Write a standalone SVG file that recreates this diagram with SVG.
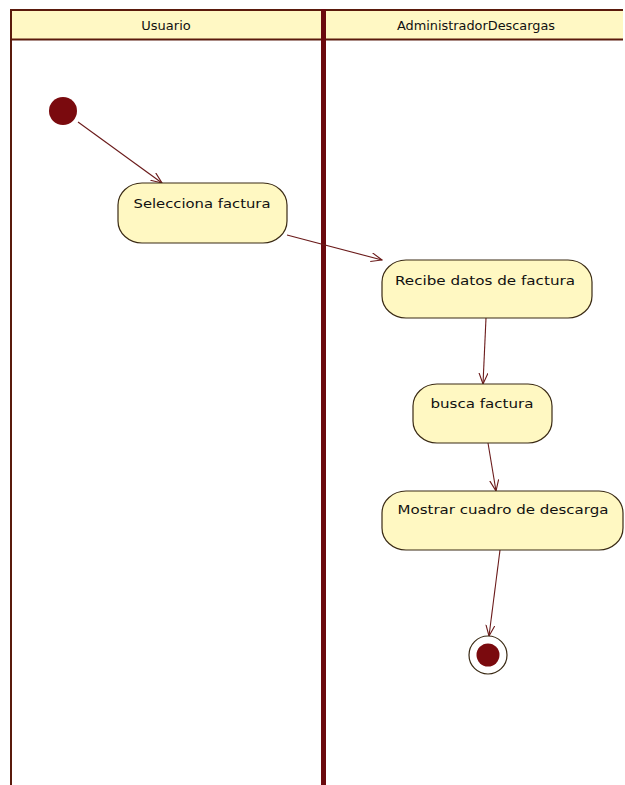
<svg xmlns="http://www.w3.org/2000/svg" width="625" height="785" viewBox="0 0 625 785">
<style>
.lane{stroke:#5a1a0c;stroke-width:2;fill:none}
.hdr{fill:#fff8c4}
.node{fill:#fff8c2;stroke:#3a2a14;stroke-width:1.2}
.t{font-family:"DejaVu Sans",sans-serif;font-size:13px;fill:#111}
.c{stroke:#6a1a1a;stroke-width:1.1;fill:none}
</style>
<defs>
<marker id="ah" viewBox="0 0 12 10" refX="11" refY="5" markerWidth="12" markerHeight="10" markerUnits="userSpaceOnUse" orient="auto">
<path d="M0,0.5 L11,5 L0,9.5" fill="none" stroke="#6a1a1a" stroke-width="1.1"/>
</marker>
</defs>
<rect width="625" height="785" fill="#ffffff"/>
<g id="swimlanes">
<rect class="hdr" x="11" y="10" width="612" height="29"/>
<line class="lane" x1="10" y1="10" x2="623" y2="10"/>
<line class="lane" x1="10" y1="39.5" x2="623" y2="39.5"/>
<line class="lane" x1="11" y1="9" x2="11" y2="785"/>
<line x1="323.5" y1="9" x2="323.5" y2="785" stroke="#6b0a0e" stroke-width="5"/>
<text class="t" x="166" y="30" text-anchor="middle">Usuario</text>
<text class="t" x="476" y="30" text-anchor="middle" textLength="158" lengthAdjust="spacingAndGlyphs">AdministradorDescargas</text>
</g>
<g id="connectors">
<line class="c" x1="78" y1="122" x2="162" y2="183" marker-end="url(#ah)"/>
<line class="c" x1="287" y1="235" x2="382" y2="260" marker-end="url(#ah)"/>
<line class="c" x1="486" y1="318" x2="483" y2="384" marker-end="url(#ah)"/>
<line class="c" x1="488" y1="443" x2="496" y2="491" marker-end="url(#ah)"/>
<line class="c" x1="500" y1="550" x2="489" y2="636" marker-end="url(#ah)"/>
</g>
<g id="start">
<circle cx="63" cy="111" r="14" fill="#7a0a0e"/>
</g>
<g id="selecciona">
<rect class="node" x="118" y="183" width="169" height="60" rx="24" ry="22"/>
<text class="t" x="202" y="208" text-anchor="middle" textLength="137" lengthAdjust="spacingAndGlyphs">Selecciona factura</text>
</g>
<g id="recibe">
<rect class="node" x="382" y="260" width="210" height="58" rx="24" ry="22"/>
<text class="t" x="485" y="285" text-anchor="middle" textLength="180" lengthAdjust="spacingAndGlyphs">Recibe datos de factura</text>
</g>
<g id="busca">
<rect class="node" x="413" y="384" width="139" height="59" rx="24" ry="22"/>
<text class="t" x="482" y="408" text-anchor="middle" textLength="103" lengthAdjust="spacingAndGlyphs">busca factura</text>
</g>
<g id="mostrar">
<rect class="node" x="382" y="491" width="241" height="59" rx="24" ry="22"/>
<text class="t" x="503" y="514" text-anchor="middle" textLength="211" lengthAdjust="spacingAndGlyphs">Mostrar cuadro de descarga</text>
</g>
<g id="end">
<circle cx="488" cy="655" r="19" fill="#ffffff" stroke="#3a2a14" stroke-width="1.2"/>
<circle cx="488" cy="655" r="11.5" fill="#7a0a0e"/>
</g>
</svg>
